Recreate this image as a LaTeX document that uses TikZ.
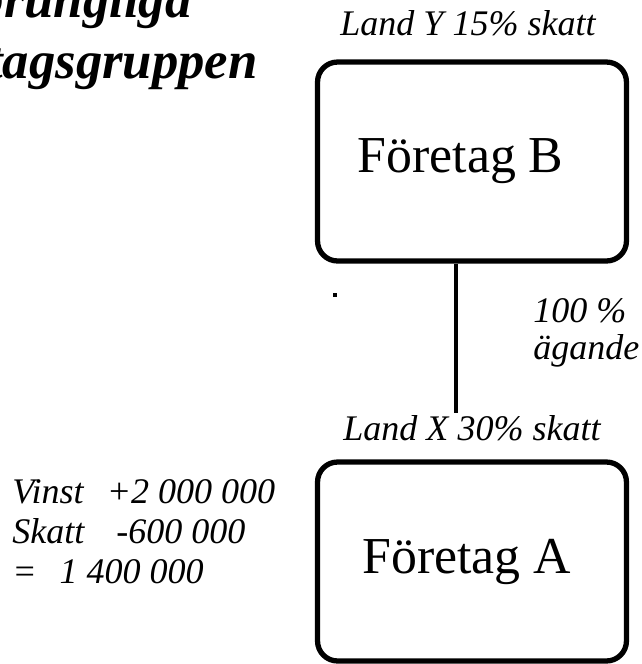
\documentclass[tikz,border=0pt]{standalone}
\usepackage{fontspec}
\setmainfont{Liberation Serif}
\begin{document}
\begin{tikzpicture}[x=0.02cm, y=-0.02cm,
    company/.style={rectangle, draw, line width=3pt, rounded corners=0.4cm,
        minimum width=6.18cm, minimum height=3.98cm, font=\fontsize{29.5}{34}\selectfont},
    note/.style={inner sep=0pt, font=\fontsize{20.5}{21}\selectfont\itshape},
    heading/.style={inner sep=0pt, anchor=base east, font=\fontsize{30}{35}\selectfont\bfseries\itshape}]
    \useasboundingbox (0,0) rectangle (642,664);
    \clip (0,0) rectangle (642,664);

    % Heading, runs off the left edge
    \node[heading] (head1) at (192,17) {ursprungliga};
    \node[heading] (head2) at (258,78) {företagsgruppen};

    % Companies (text sits a bit left of centre)
    \node[company] (B) at (472,161.5) {Företag B\kern13pt};
    \node[company] (A) at (472,561.5) {Företag A\kern6pt};

    % Tax rates
    \node[note, anchor=base] (taxY) at (468,35) {Land Y 15\% skatt};
    \node[note, anchor=base] (taxX) at (472,440) {Land X 30\% skatt};

    % Ownership line
    \coordinate (own) at (456,413);
    \draw[line width=2.2pt] (own |- B.south) -- (own);
    \node[note, anchor=north west, align=left] (share) at (533,298) {100 \%\\ägande};
    \fill (333,293) rectangle (337,297);

    % Result in A
    \node[note, anchor=north west, align=left, font=\fontsize{20.5}{22.8}\selectfont\itshape] (result) at (12,479)
        {Vinst\hspace{0.64em}+2 000 000\\Skatt\hspace{0.89em}-600 000\\=\hspace{0.64em}1 400 000};
\end{tikzpicture}
\end{document}
